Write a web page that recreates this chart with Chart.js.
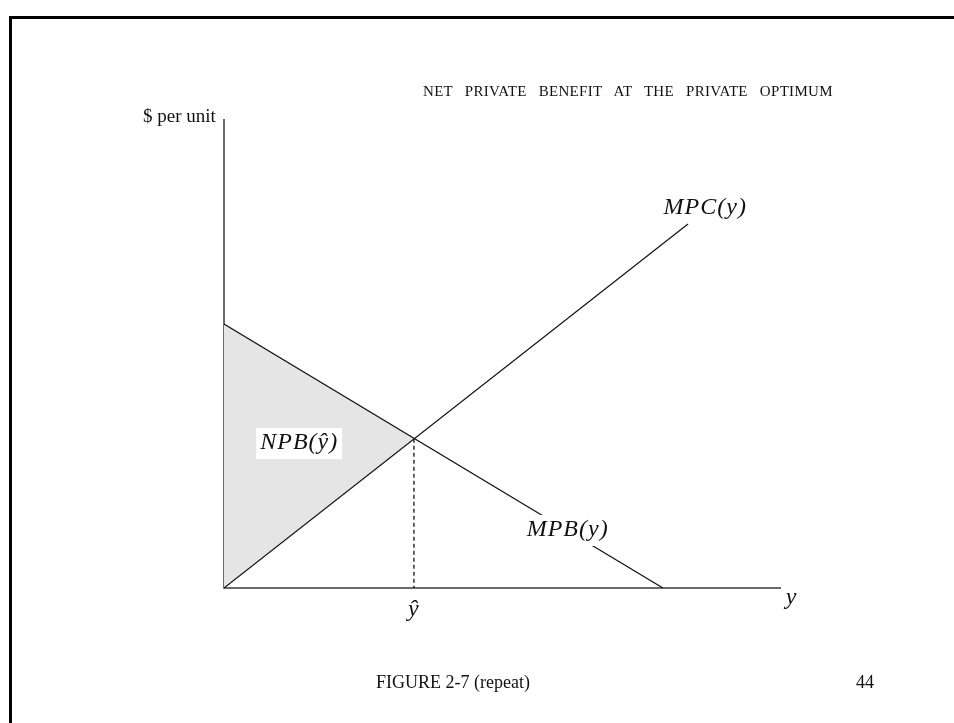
<!DOCTYPE html>
<html lang="en">
<head>
<meta charset="UTF-8">
<title>Net private benefit at the private optimum</title>
<script src="https://cdn.jsdelivr.net/npm/chart.js"></script>
<style>
    body {
        margin: 0;
        background: #ffffff;
        font-family: "Liberation Serif", "Times New Roman", serif;
        color: #111;
    }
    .page {
        position: relative;
        width: 954px;
        height: 723px;
        overflow: hidden;
    }
    .frame {
        position: absolute;
        left: 9px;
        top: 16px;
        width: 960px;
        height: 720px;
        border-top: 3px solid #000;
        border-left: 3px solid #000;
    }
    canvas {
        position: absolute;
        left: 0;
        top: 0;
    }
    .txt {
        position: absolute;
        white-space: nowrap;
        line-height: 1;
    }
    #title {
        left: 423px;
        top: 84px;
        font-size: 15px;
        letter-spacing: 0.3px;
        word-spacing: 8px;
    }
    #yunit {
        left: 143px;
        top: 106px;
        font-size: 19px;
    }
    #caption {
        left: 376px;
        top: 673px;
        font-size: 18px;
    }
    #pagenum {
        left: 856px;
        top: 673px;
        font-size: 18px;
    }
</style>
</head>
<body>
<div class="page">
    <div class="frame"></div>
    <canvas id="chart" width="954" height="723"></canvas>
    <div class="txt" id="title">NET PRIVATE BENEFIT AT THE PRIVATE OPTIMUM</div>
    <div class="txt" id="yunit">$ per unit</div>
    <div class="txt" id="caption">FIGURE 2-7 (repeat)</div>
    <div class="txt" id="pagenum">44</div>
</div>

<script>
    // curves (arbitrary units, axes 0..100)
    const mpbX = [0, 78.8];
    const mpbY = [56.3, 0];
    const mpcX = [0, 83.3];
    const mpcY = [0, 77.6];
    // private optimum y-hat, where MPB = MPC
    const optX = [34.1];
    const optY = [31.8];
    // shaded net private benefit triangle
    const npbX = [0, 34.1, 0];
    const npbY = [56.3, 31.8, 0];

    // curve labels (text, position in data units)
    const labelText = ['MPC(y)', 'MPB(y)', 'NPB(ŷ)', 'ŷ', 'y'];
    const labelX = [86.4, 61.7, 13.5, 34.1, 101.9];
    const labelY = [79.7, 11.1, 29.6, -6.0, -3.4];
    const labelBox = [false, true, true, false, false];

    function pts(xs, ys) {
        return xs.map((x, i) => ({ x: x, y: ys[i] }));
    }

    const axesPlugin = {
        id: 'axes',
        beforeDatasetsDraw(chart) {
            const ctx = chart.ctx;
            const a = chart.chartArea;
            ctx.save();
            ctx.strokeStyle = '#3a3a3a';
            ctx.lineWidth = 1.5;
            ctx.beginPath();
            ctx.moveTo(a.left, a.top);
            ctx.lineTo(a.left, a.bottom);
            ctx.lineTo(a.right, a.bottom);
            ctx.stroke();
            ctx.restore();
        }
    };

    const labelPlugin = {
        id: 'curveLabels',
        afterDatasetsDraw(chart) {
            const ctx = chart.ctx;
            const xs = chart.scales.x;
            const ys = chart.scales.y;
            ctx.save();
            ctx.font = 'italic 24px "Liberation Serif", "Times New Roman", serif';
            ctx.letterSpacing = '1px';
            ctx.textAlign = 'center';
            ctx.textBaseline = 'alphabetic';
            labelText.forEach((t, i) => {
                const px = xs.getPixelForValue(labelX[i]);
                const py = ys.getPixelForValue(labelY[i]);
                const w = ctx.measureText(t).width;
                if (labelBox[i]) {
                    ctx.fillStyle = '#ffffff';
                    ctx.fillRect(px - w / 2 - 4, py - 21, w + 8, 31);
                }
                ctx.fillStyle = '#111';
                ctx.fillText(t, px, py);
            });
            ctx.restore();
        }
    };

    new Chart(document.getElementById('chart'), {
        type: 'line',
        data: {
            datasets: [
                {
                    label: 'MPC(y)',
                    data: pts(mpcX, mpcY),
                    borderColor: '#111',
                    borderWidth: 1.2,
                    pointRadius: 0,
                    fill: false,
                    order: 1
                },
                {
                    label: 'MPB(y)',
                    data: pts(mpbX, mpbY),
                    borderColor: '#111',
                    borderWidth: 1.2,
                    pointRadius: 0,
                    fill: false,
                    order: 1
                },
                {
                    label: 'y-hat',
                    data: [{ x: optX[0], y: optY[0] }, { x: optX[0], y: 0 }],
                    borderColor: '#000',
                    borderWidth: 1.2,
                    borderDash: [4, 3],
                    pointRadius: 0,
                    fill: false,
                    order: 2
                },
                {
                    label: 'NPB',
                    data: pts(npbX, npbY),
                    borderWidth: 0,
                    borderColor: 'rgba(0,0,0,0)',
                    backgroundColor: '#e5e5e5',
                    pointRadius: 0,
                    fill: 'shape',
                    order: 3
                }
            ]
        },
        options: {
            responsive: false,
            animation: false,
            layout: { padding: { left: 224, right: 173, top: 119, bottom: 135 } },
            plugins: {
                legend: { display: false },
                tooltip: { enabled: false },
                title: { display: false }
            },
            scales: {
                x: { type: 'linear', display: false, min: 0, max: 100 },
                y: { type: 'linear', display: false, min: 0, max: 100 }
            }
        },
        plugins: [axesPlugin, labelPlugin]
    });
</script>
</body>
</html>
